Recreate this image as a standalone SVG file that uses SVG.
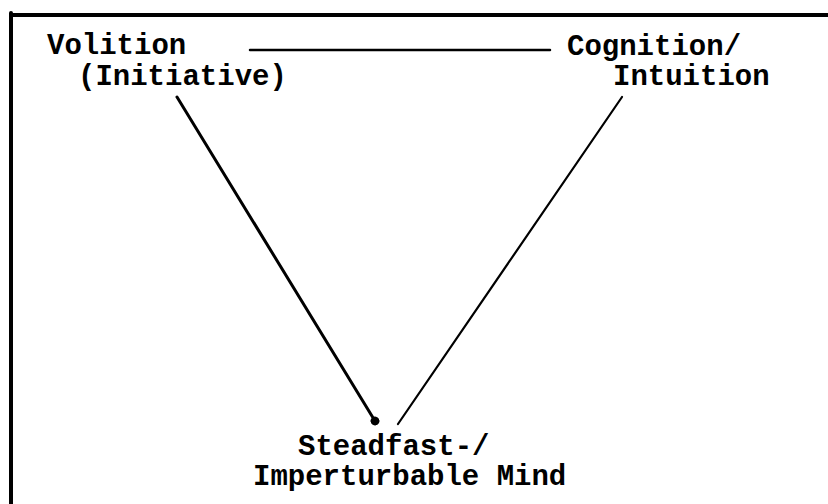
<svg xmlns="http://www.w3.org/2000/svg" width="828" height="504" viewBox="0 0 828 504">
<style>
text{font-family:"Liberation Mono","Courier New",monospace;font-size:29px;font-weight:bold;fill:#000}
.ln{stroke:#000;fill:none;stroke-linecap:round}
</style>
<defs>
<marker id="dot" viewBox="0 0 10 10" refX="5" refY="5" markerWidth="3" markerHeight="3" orient="auto">
<circle cx="5" cy="5" r="5" fill="#000"/>
</marker>
</defs>
<rect width="828" height="504" fill="#fff"/>
<g id="frame">
<line class="ln" x1="11" y1="15" x2="828" y2="15" stroke-width="4" stroke-linecap="butt"/>
<line class="ln" x1="11" y1="13" x2="11" y2="504" stroke-width="4" stroke-linecap="butt"/>
</g>
<g id="connectors">
<line class="ln" x1="250" y1="50" x2="550" y2="50" stroke-width="2.5"/>
<line class="ln" x1="177" y1="97" x2="375" y2="421" stroke-width="3" marker-end="url(#dot)"/>
<line class="ln" x1="622" y1="97" x2="398" y2="424" stroke-width="2.2"/>
</g>
<g id="volition">
<text x="47" y="54">Volition</text>
<text x="78" y="85">(Initiative)</text>
</g>
<g id="cognition">
<text x="567" y="55">Cognition/</text>
<text x="613" y="85">Intuition</text>
</g>
<g id="mind">
<text x="298" y="455">Steadfast-/</text>
<text x="253" y="485">Imperturbable Mind</text>
</g>
</svg>
